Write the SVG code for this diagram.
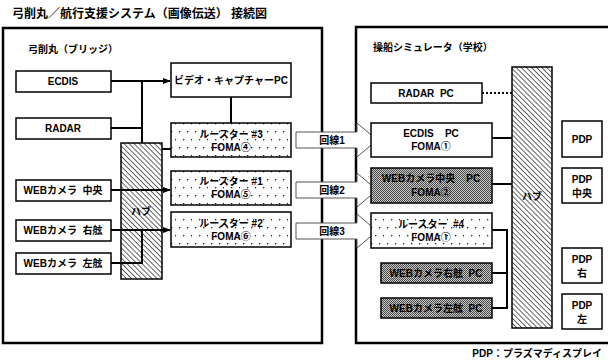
<svg xmlns="http://www.w3.org/2000/svg" width="608" height="363" viewBox="0 0 608 363">
<style>
text{font-family:"Liberation Sans","Noto Sans CJK JP",sans-serif;font-weight:bold;fill:#000;}
.t{font-size:10px;text-anchor:middle;}
.box{fill:#fff;stroke:#000;stroke-width:1.5;}
.dot{fill:url(#dots);stroke:#000;stroke-width:1.5;}
.grey{fill:url(#checker);stroke:#000;stroke-width:1.5;}
.hub{fill:url(#hatch);stroke:#000;stroke-width:1.5;}
.outer{fill:none;stroke:#000;stroke-width:2.5;}
.ln{fill:none;stroke:#000;stroke-width:2;}
.blk{fill:#fff;stroke:#555;stroke-width:1;}
</style>
<defs>
<pattern id="hatch" width="3.6" height="3.6" patternUnits="userSpaceOnUse" patternTransform="rotate(-45)">
<rect width="3.6" height="3.6" fill="#fff"/>
<line x1="0" y1="0" x2="0" y2="3.6" stroke="#222" stroke-width="1.4"/>
</pattern>
<pattern id="dots" width="16" height="16" patternUnits="userSpaceOnUse">
<rect width="16" height="16" fill="#fff"/>
<rect x="3" y="3" width="1.3" height="1.3" fill="#222"/>
<rect x="11" y="3" width="1.3" height="1.3" fill="#222"/>
<rect x="7" y="11" width="1.3" height="1.3" fill="#222"/>
<rect x="15" y="11" width="1.3" height="1.3" fill="#222"/>
</pattern>
<pattern id="checker" width="2" height="2" patternUnits="userSpaceOnUse">
<rect width="2" height="2" fill="#c8c8c8"/>
<rect width="1" height="1" fill="#4a4a4a"/>
<rect x="1" y="1" width="1" height="1" fill="#4a4a4a"/>
</pattern>
<marker id="arr" markerWidth="8" markerHeight="6" refX="7" refY="3" orient="auto" markerUnits="userSpaceOnUse">
<path d="M0,0 L8,3 L0,6 z" fill="#000"/>
</marker>
</defs>

<text x="12" y="18" style="font-size:12px">弓削丸／航行支援システム（画像伝送） 接続図</text>

<g id="bridge">
<rect class="outer" x="3" y="28" width="319" height="315"/>
<text x="28" y="53" style="font-size:10px">弓削丸（ブリッジ）</text>
</g>
<g id="school">
<rect class="outer" x="356" y="27" width="256" height="316"/>
<text x="373" y="51" style="font-size:10px">操船シミュレータ（学校）</text>
</g>

<g id="connectors">
<line class="ln" x1="111" y1="81" x2="170" y2="81" marker-end="url(#arr)"/>
<polyline class="ln" points="142,81 142,143"/>
<line class="ln" x1="111" y1="128" x2="142" y2="128"/>
<line class="ln" x1="231" y1="97" x2="231" y2="123"/>
<line class="ln" x1="162" y1="149" x2="171" y2="149"/>
<line class="ln" x1="482" y1="93" x2="512" y2="93" stroke-dasharray="2,2"/>
<line class="ln" x1="492" y1="138" x2="512" y2="138"/>
<line class="ln" x1="492" y1="184" x2="512" y2="184"/>
<polyline class="ln" points="492,230 507,230 507,308 492,308"/>
<line class="ln" x1="492" y1="273" x2="507" y2="273"/>
</g>

<g id="hub-left">
<rect class="hub" x="121" y="143" width="41" height="136"/>
<text class="t" x="141" y="215">ハブ</text>
</g>
<g id="connectors-over">
<line class="ln" x1="111" y1="190" x2="170" y2="190" marker-end="url(#arr)"/>
<line class="ln" x1="111" y1="230" x2="170" y2="230" marker-end="url(#arr)"/>
<polyline class="ln" points="111,263 142,263 142,230"/>
</g>

<g id="ecdis"><rect class="box" x="16" y="71" width="95" height="21"/><text class="t" x="63" y="85">ECDIS</text></g>
<g id="radar"><rect class="box" x="16" y="118" width="95" height="21"/><text class="t" x="63" y="132">RADAR</text></g>
<g id="cam-center"><rect class="box" x="16" y="180" width="95" height="21"/><text class="t" x="63" y="194">WEBカメラ&#160;&#160;中央</text></g>
<g id="cam-right"><rect class="box" x="16" y="220" width="95" height="21"/><text class="t" x="63" y="234">WEBカメラ&#160;&#160;右舷</text></g>
<g id="cam-left"><rect class="box" x="16" y="253" width="95" height="21"/><text class="t" x="63" y="267">WEBカメラ&#160;&#160;左舷</text></g>

<g id="video-pc"><rect class="box" x="171" y="63" width="120" height="34"/><text class="t" x="231" y="84">ビデオ・キャプチャーPC</text></g>
<g id="router3"><rect class="dot" x="171" y="123" width="120" height="34"/><text class="t" x="231" y="138">ルースター&#160;#3</text><text class="t" x="231" y="151">FOMA④</text></g>
<g id="router1"><rect class="dot" x="171" y="171" width="120" height="34"/><text class="t" x="231" y="185">ルースター&#160;#1</text><text class="t" x="231" y="198">FOMA⑤</text></g>
<g id="router2"><rect class="dot" x="171" y="212" width="120" height="35"/><text class="t" x="231" y="227">ルースター&#160;#2</text><text class="t" x="231" y="240">FOMA⑥</text></g>

<g id="line1"><polygon class="blk" points="296,132 357,132 357,123 377,140 357,157 357,148 296,148"/><text class="t" x="332" y="144">回線1</text></g>
<g id="line2"><polygon class="blk" points="296,182 357,182 357,173 377,190 357,207 357,198 296,198"/><text class="t" x="332" y="194">回線2</text></g>
<g id="line3"><polygon class="blk" points="296,223 357,223 357,214 377,231 357,248 357,239 296,239"/><text class="t" x="332" y="235">回線3</text></g>

<g id="radar-pc"><rect class="box" x="371" y="83" width="111" height="20"/><text class="t" x="426" y="97">RADAR&#160;&#160;PC</text></g>
<g id="ecdis-pc"><rect class="box" x="371" y="123" width="121" height="34"/><text class="t" x="431" y="137">ECDIS&#160;&#160;&#160;&#160;PC</text><text class="t" x="431" y="150">FOMA①</text></g>
<g id="cam-center-pc"><rect class="grey" x="371" y="168" width="121" height="35"/><text class="t" x="431" y="182">WEBカメラ中央&#160;&#160;&#160;&#160;PC</text><text class="t" x="431" y="196">FOMA②</text></g>
<g id="router4"><rect class="dot" x="371" y="213" width="121" height="35"/><text class="t" x="431" y="228">ルースター&#160;&#160;#4</text><text class="t" x="431" y="241">FOMA①</text></g>
<g id="cam-right-pc"><rect class="grey" x="381" y="263" width="111" height="20"/><text class="t" x="436" y="277">WEBカメラ右舷&#160;&#160;PC</text></g>
<g id="cam-left-pc"><rect class="grey" x="381" y="298" width="111" height="20"/><text class="t" x="436" y="312">WEBカメラ左舷&#160;&#160;PC</text></g>

<g id="hub-right">
<rect class="hub" x="512" y="67" width="40" height="261"/>
<text class="t" x="532" y="200">ハブ</text>
</g>

<g id="pdp"><rect class="box" x="562" y="121" width="40" height="36"/><text class="t" x="582" y="143">PDP</text></g>
<g id="pdp-center"><rect class="box" x="562" y="168" width="40" height="35"/><text class="t" x="582" y="183">PDP</text><text class="t" x="582" y="197">中央</text></g>
<g id="pdp-right"><rect class="box" x="562" y="248" width="40" height="35"/><text class="t" x="582" y="263">PDP</text><text class="t" x="582" y="277">右</text></g>
<g id="pdp-left"><rect class="box" x="562" y="294" width="40" height="35"/><text class="t" x="582" y="309">PDP</text><text class="t" x="582" y="323">左</text></g>

<text x="602" y="357" style="font-size:10px;text-anchor:end">PDP：プラズマディスプレイ</text>
</svg>
